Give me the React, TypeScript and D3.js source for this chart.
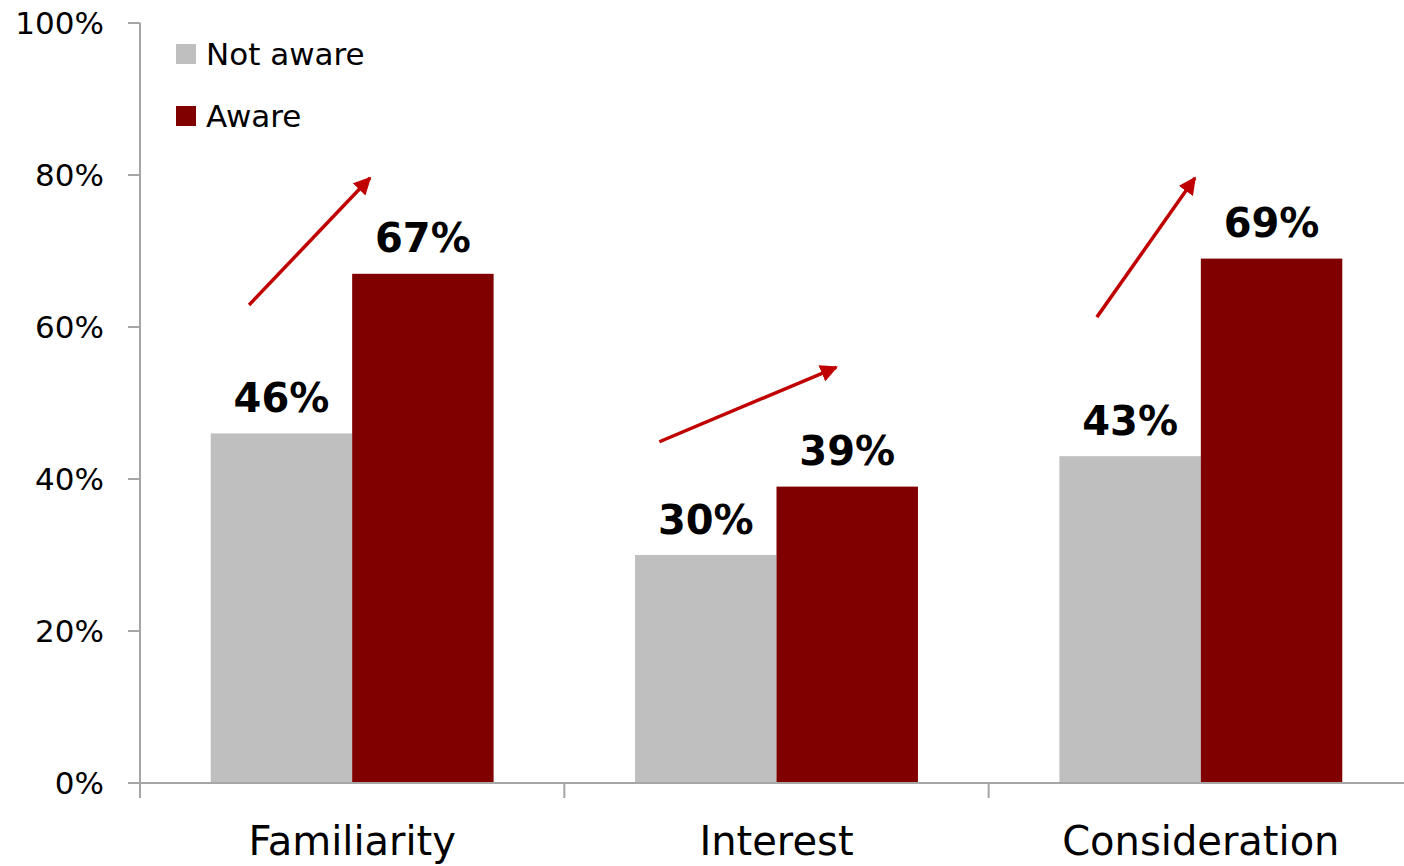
import React from "react";
import * as d3 from "d3";

const categories = ["Familiarity", "Interest", "Consideration"];
const seriesNames = ["Not aware", "Aware"];
const notAware = [46, 30, 43];
const aware = [67, 39, 69];
const yTicks = [0, 20, 40, 60, 80, 100];
// arrow annotations: fraction within category band, value in %
const arrowFromX = [0.257, 0.224, 0.255];
const arrowFromY = [62.9, 44.9, 61.3];
const arrowToX = [0.542, 0.641, 0.486];
const arrowToY = [79.6, 54.7, 79.6];

const W = 1404;
const H = 866;
const FONT = "'DejaVu Sans', sans-serif";
const colors = ["#BFBFBF", "#800000"];

export default function App() {
  const x0 = d3.scaleBand<string>().domain(categories).range([140, 1413]).paddingInner(0).paddingOuter(0);
  const y = d3.scaleLinear().domain([0, 100]).range([783, 23]);
  const bw = x0.bandwidth();
  const inner = d3.scaleBand<string>().domain(seriesNames).range([0, bw]).paddingOuter(0.5).paddingInner(0);
  const series = [notAware, aware];
  const axisColor = "#A6A6A6";

  return (
    <svg width={W} height={H} style={{ position: "absolute", left: 0, top: 0, background: "#fff" }}>
      <defs>
        <marker id="ah" viewBox="0 0 10 10" refX="9" refY="5" markerWidth="5" markerHeight="5" orient="auto" markerUnits="strokeWidth">
          <path d="M0,0 L10,5 L0,10 z" fill="#C00000" />
        </marker>
      </defs>
      {categories.map((c, ci) =>
        series.map((s, si) => (
          <rect
            key={c + si}
            x={(x0(c) as number) + (inner(seriesNames[si]) as number)}
            y={y(s[ci])}
            width={inner.bandwidth()}
            height={y(0) - y(s[ci])}
            fill={colors[si]}
          />
        ))
      )}
      {categories.map((c, ci) =>
        series.map((s, si) => (
          <text
            key={"l" + c + si}
            x={(x0(c) as number) + (inner(seriesNames[si]) as number) + inner.bandwidth() / 2}
            y={y(s[ci]) - 21.5}
            textAnchor="middle"
            fontFamily={FONT}
            fontWeight="bold"
            fontSize={40}
            fill="#000"
          >
            {s[ci]}%
          </text>
        ))
      )}
      <line x1={140} x2={140} y1={y(100)} y2={y(0)} stroke={axisColor} strokeWidth={2} />
      <line x1={128} x2={1413} y1={y(0)} y2={y(0)} stroke={axisColor} strokeWidth={2} />
      {yTicks.map((t) => (
        <g key={"yt" + t}>
          <line x1={128} x2={140} y1={y(t)} y2={y(t)} stroke={axisColor} strokeWidth={2} />
          <text x={104} y={y(t)} dy="0.36em" textAnchor="end" fontFamily={FONT} fontSize={31} fill="#000">
            {t}%
          </text>
        </g>
      ))}
      {[...categories.map((c) => x0(c) as number), 1413].map((xv, i) => (
        <line key={"xt" + i} x1={xv} x2={xv} y1={y(0)} y2={y(0) + 15} stroke={axisColor} strokeWidth={2} />
      ))}
      {categories.map((c) => (
        <text key={"c" + c} x={(x0(c) as number) + bw / 2} y={855} textAnchor="middle" fontFamily={FONT} fontSize={40} fill="#000">
          {c}
        </text>
      ))}
      {categories.map((c, ci) => (
        <line
          key={"a" + c}
          x1={(x0(c) as number) + bw * arrowFromX[ci]}
          y1={y(arrowFromY[ci])}
          x2={(x0(c) as number) + bw * arrowToX[ci]}
          y2={y(arrowToY[ci])}
          stroke="#C00000"
          strokeWidth={3.5}
          markerEnd="url(#ah)"
        />
      ))}
      {seriesNames.map((n, i) => (
        <g key={"lg" + n} transform={`translate(176, ${44 + i * 62})`}>
          <rect width={20} height={20} fill={colors[i]} />
          <text x={30} y={10} dy="0.36em" fontFamily={FONT} fontSize={31} fill="#000">
            {n}
          </text>
        </g>
      ))}
    </svg>
  );
}
